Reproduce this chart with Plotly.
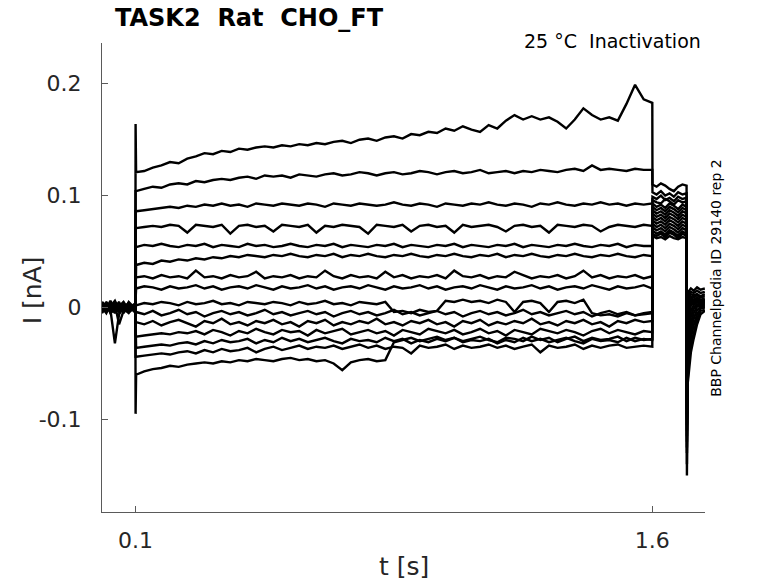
import plotly.graph_objects as go

# sample times [s]
t_pre = [0.0025, 0.015, 0.027, 0.04, 0.052, 0.065, 0.08, 0.0995]
t_on = 0.1
t_pulse = [0.1015] + [round(0.1 + 0.025 * k, 4) for k in range(1, 61)]
t_tail = [1.6005, 1.6125, 1.625, 1.6375, 1.65, 1.6625, 1.675, 1.6875, 1.6995]
t_post = [1.7005, 1.7035, 1.707, 1.712, 1.72, 1.73, 1.74, 1.7525]

# currents in pA, one row per sweep (top to bottom)
pre_pA = [
    [2, -3, 4, -1, 3, -2, 1, 0],
    [-1, 3, -4, 2, -2, 4, -3, 1],
    [3, 0, -3, 5, -1, 2, 0, -2],
    [-4, 2, 1, -3, 4, -1, 3, -1],
    [0, -5, 3, -2, 1, 5, -2, 2],
    [5, 1, -2, -32, -6, 0, 4, -3],
    [-2, 4, 0, 3, -15, -3, 2, 1],
    [1, -2, 5, -4, 2, -1, -5, 3],
    [-3, 5, -1, 1, -4, 3, 0, -4],
    [4, -4, 2, -5, 3, 1, -3, 2],
    [-5, 1, -2, 4, 0, -4, 5, -1],
    [2, -1, 6, -2, -3, 2, -1, 4],
    [-2, 3, -5, 0, 5, -5, 2, -2],
    [0, -3, 1, 6, -2, 3, -4, 0],
    [3, 2, -4, -3, 1, -2, 4, -5],
]

on_pA = [164, 104, 86, 71, 54, 38, 27, 17, 2, -5, -13, -24, -35, -44, -95]

pulse_pA = [
    [121, 122, 125, 127, 130, 129, 133, 135, 138, 137,
     140, 139, 142, 141, 143, 144, 143, 145, 144, 146,
     145, 147, 146, 148, 149, 147, 150, 151, 149, 152,
     153, 151, 155, 154, 157, 156, 160, 158, 162, 159,
     157, 163, 160, 167, 172, 168, 171, 168, 170, 166,
     160, 168, 178, 172, 168, 170, 167, 182, 199, 186,
     183],
    [104, 106, 108, 107, 110, 111, 110, 113, 112, 114,
     115, 114, 116, 117, 115, 118, 117, 118, 116, 119,
     118, 117, 119, 120, 118, 119, 121, 120, 118, 120,
     121, 119, 120, 122, 121, 119, 121, 122, 120, 121,
     123, 120, 121, 122, 120, 122, 121, 123, 122, 121,
     123, 124, 122, 127, 123, 124, 123, 122, 124, 123,
     123],
    [86, 87, 88, 89, 90, 89, 91, 90, 92, 91,
     93, 91, 92, 90, 93, 92, 91, 93, 92, 91,
     93, 92, 90, 93, 92, 91, 93, 92, 91, 92,
     94, 92, 91, 93, 92, 90, 93, 92, 91, 93,
     92, 94, 92, 91, 93, 92, 90, 93, 92, 94,
     92, 91, 93, 92, 94, 92, 93, 91, 93, 92,
     93],
    [71, 72, 73, 72, 74, 73, 67, 74, 73, 72,
     74, 66, 73, 74, 72, 73, 68, 74, 73, 72,
     74, 67, 73, 72, 74, 73, 72, 66, 74, 73,
     72, 74, 68, 73, 74, 72, 73, 67, 74, 72,
     73, 74, 72, 68, 73, 74, 72, 73, 67, 74,
     73, 72, 74, 73, 68, 72, 74, 73, 72, 74,
     73],
    [54, 56, 55, 57, 55, 54, 56, 55, 57, 54,
     56, 55, 54, 57, 55, 56, 54, 55, 57, 55,
     54, 56, 55, 57, 54, 56, 55, 54, 56, 55,
     57, 54, 56, 55, 54, 56, 55, 57, 54, 56,
     55, 54, 56, 55, 57, 54, 56, 55, 54, 56,
     55, 57, 55, 54, 56, 55, 57, 54, 56, 55,
     55],
    [38, 40, 39, 42, 41, 43, 42, 44, 43, 45,
     44, 46, 45, 47, 46, 45, 47, 46, 48, 46,
     45, 47, 46, 48, 45, 47, 46, 48, 46, 45,
     47, 46, 48, 46, 45, 47, 46, 48, 46, 45,
     47, 46, 48, 45, 47, 46, 48, 46, 45, 47,
     46, 48, 46, 45, 47, 46, 48, 46, 45, 47,
     46],
    [27, 28, 26, 29, 27, 28, 26, 33, 27, 28,
     26, 29, 27, 28, 32, 26, 28, 27, 29, 26,
     28, 27, 33, 28, 26, 29, 27, 28, 26, 32,
     27, 29, 26, 28, 27, 29, 26, 33, 28, 27,
     29, 26, 28, 27, 32, 29, 26, 28, 27, 29,
     26, 28, 33, 27, 29, 26, 28, 27, 29, 26,
     28],
    [17, 19, 18, 16, 19, 17, 18, 20, 17, 19,
     16, 18, 19, 17, 20, 18, 16, 19, 17, 18,
     20, 17, 19, 16, 18, 19, 17, 20, 18, 16,
     19, 17, 18, 20, 17, 19, 16, 18, 19, 17,
     20, 18, 16, 19, 17, 18, 20, 17, 19, 16,
     18, 19, 17, 20, 18, 16, 19, 17, 18, 20,
     17],
    [2, 4, 3, 5, 4, 2, 5, 3, 4, 6,
     3, 4, 2, 5, 4, 3, 5, 4, 2, 5,
     3, 4, 6, 3, 4, 2, 5, 4, 3, 5,
     -4, -3, -5, -2, -4, -3, 6, 5, 7, 5,
     6, 4, 7, 5, -4, 5, 6, 4, -4, 5,
     6, 4, 7, -5, -7, -6, -8, -5, -7, -6,
     -5],
    [-4, -6, -3, -7, -5, -2, -6, -4, -8, -5,
     -3, -6, -4, -7, -5, -2, -6, -4, -7, -5,
     -3, -6, -4, -8, -5, -3, -6, -4, -7, -5,
     -2, -6, -4, -7, -5, -3, -6, -4, -8, -5,
     -3, -6, -4, -7, -5, -2, -6, -4, -7, -5,
     -3, -6, -4, -8, -5, -3, -6, -4, -7, -5,
     -4],
    [-13, -15, -12, -16, -13, -11, -14, -17, -12, -14,
     -10, -15, -13, -16, -12, -14, -11, -15, -13, -17,
     -12, -14, -11, -16, -13, -15, -12, -14, -10, -15,
     -13, -16, -12, -14, -11, -15, -13, -17, -12, -14,
     -11, -16, -13, -15, -12, -14, -10, -15, -13, -16,
     -12, -14, -11, -15, -13, -17, -12, -14, -11, -13,
     -12],
    [-26, -25, -24, -23, -24, -22, -23, -21, -24, -20,
     -22, -25, -21, -23, -19, -22, -24, -20, -22, -21,
     -25, -20, -23, -21, -19, -24, -22, -20, -23, -21,
     -25, -20, -22, -24, -19, -21, -23, -20, -24, -22,
     -19, -23, -21, -25, -20, -22, -24, -19, -21, -23,
     -20, -22, -25, -21, -19, -23, -20, -22, -24, -21,
     -22],
    [-36, -35, -34, -33, -34, -32, -31, -33, -30, -32,
     -29, -31, -30, -28, -32, -29, -31, -27, -30, -28,
     -31, -29, -27, -30, -32, -28, -30, -29, -31, -27,
     -30, -28, -32, -29, -31, -28, -30, -27, -31, -29,
     -30, -28, -32, -29, -31, -27, -30, -28, -31, -29,
     -27, -30, -32, -28, -30, -29, -31, -27, -30, -28,
     -29],
    [-44, -43, -42, -41, -42, -40, -39, -41, -38, -40,
     -37, -39, -38, -36, -40, -37, -35, -38, -36, -34,
     -37, -35, -36, -34, -37, -35, -33, -36, -34, -37,
     -35, -36, -41, -34, -36, -35, -33, -37, -34, -36,
     -35, -33, -36, -34, -37, -35, -33, -40, -34, -36,
     -35, -33, -37, -34, -36, -34, -33, -36, -35, -34,
     -35],
    [-60, -57, -55, -54, -52, -53, -51, -50, -49, -50,
     -48, -49, -47, -48, -46, -47, -48, -46, -45, -47,
     -46, -48, -47, -50, -56, -49, -47, -46, -48, -47,
     -31, -29, -27, -30, -28, -26, -29, -27, -30, -28,
     -26, -29, -31, -27, -28, -30, -26, -29, -27, -31,
     -28, -26, -30, -27, -29, -28, -26, -30, -27, -29,
     -28],
]

tail_pA = [
    [110, 108, 111, 109, 106, 104, 108, 110, 109],
    [103, 101, 104, 100, 102, 99, 103, 101, 102],
    [99, 97, 100, 96, 98, 95, 99, 97, 98],
    [96, 94, 93, 97, 95, 92, 96, 94, 95],
    [93, 90, 92, 89, 93, 91, 88, 92, 90],
    [90, 87, 89, 86, 90, 88, 85, 89, 87],
    [87, 84, 86, 83, 87, 85, 82, 86, 84],
    [84, 81, 83, 80, 84, 82, 79, 83, 81],
    [81, 78, 80, 77, 81, 79, 76, 80, 78],
    [78, 75, 77, 74, 78, 76, 73, 77, 75],
    [75, 72, 74, 71, 75, 73, 70, 74, 72],
    [72, 69, 71, 68, 72, 70, 67, 71, 69],
    [69, 66, 68, 65, 69, 67, 64, 68, 66],
    [66, 64, 66, 63, 67, 65, 62, 66, 64],
    [64, 62, 63, 61, 64, 62, 61, 63, 62],
]

post_pA = [
    [-150, 10, 15, 17, 15, 18, 16, 17],
    [-140, 8, 12, 14, 13, 15, 13, 14],
    [-130, 5, 10, 12, 11, 12, 10, 12],
    [-125, 2, 8, 10, 9, 11, 9, 10],
    [-120, -2, 5, 8, 7, 9, 7, 8],
    [-115, -6, 2, 6, 6, 8, 6, 7],
    [-110, -12, -2, 4, 5, 7, 5, 6],
    [-105, -18, -6, 2, 4, 6, 4, 5],
    [-100, -25, -12, -3, 2, 5, 3, 4],
    [-95, -32, -18, -8, -1, 3, 2, 3],
    [-90, -38, -25, -14, -5, 1, 1, 2],
    [-85, -45, -32, -20, -10, -2, 0, 1],
    [-80, -52, -38, -27, -16, -6, -1, 0],
    [-75, -58, -45, -34, -22, -10, -3, -2],
    [-70, -66, -52, -40, -28, -15, -6, -3],
]

t_all = t_pre + [t_on] + t_pulse + t_tail + t_post

fig = go.Figure()
for i in range(len(pulse_pA)):
    i_pA = pre_pA[i] + [on_pA[i]] + pulse_pA[i] + tail_pA[i] + post_pA[i]
    assert len(i_pA) == len(t_all), (i, len(i_pA))
    fig.add_trace(go.Scatter(
        x=t_all,
        y=[v / 1000 for v in i_pA],
        mode='lines',
        line=dict(color='black', width=2.4),
        showlegend=False,
        hoverinfo='skip'
    ))

axis_col = '#5a5a5a'
font_col = '#262626'

fig.update_xaxes(
    range=[0.0025, 1.753],
    tickvals=[0.1, 1.6], ticktext=['0.1', '1.6'],
    ticks='inside', ticklen=6, tickcolor=axis_col,
    showline=True, linecolor=axis_col, linewidth=1,
    showgrid=False, zeroline=False,
    tickfont=dict(family='DejaVu Sans', size=22, color=font_col),
    ticklabelstandoff=9
)
fig.update_yaxes(
    range=[-0.1827, 0.2364],
    tickvals=[-0.1, 0, 0.1, 0.2], ticktext=['-0.1', '0', '0.1', '0.2'],
    ticks='inside', ticklen=6, tickcolor=axis_col,
    showline=True, linecolor=axis_col, linewidth=1,
    showgrid=False, zeroline=False,
    tickfont=dict(family='DejaVu Sans', size=22, color=font_col),
    ticklabelstandoff=15
)

fig.update_layout(
    width=778, height=583,
    margin=dict(l=102, r=73, t=43, b=71),
    plot_bgcolor='white', paper_bgcolor='white',
    font=dict(family='DejaVu Sans', color=font_col),
    annotations=[
        dict(text='<b>TASK2  Rat  CHO_FT</b>', xref='paper', yref='paper',
             x=0.018, y=1.053, xanchor='left', yanchor='middle',
             showarrow=False, font=dict(size=24, color='black')),
        dict(text='25 °C  Inactivation', xref='paper', yref='paper',
             x=0.997, y=1.004, xanchor='right', yanchor='middle',
             showarrow=False, font=dict(size=19, color='black')),
        dict(text='BBP Channelpedia ID 29140 rep 2', xref='paper', yref='paper',
             x=1.018, y=0.499, xanchor='center', yanchor='middle', textangle=-90,
             showarrow=False, font=dict(size=14, color='black')),
        dict(text='I [nA]', xref='paper', yref='paper',
             x=-0.116, y=0.473, xanchor='center', yanchor='middle', textangle=-90,
             showarrow=False, font=dict(size=25, color=font_col)),
        dict(text='t [s]', xref='paper', yref='paper',
             x=0.5, y=-0.117, xanchor='center', yanchor='middle',
             showarrow=False, font=dict(size=25, color=font_col)),
    ]
)

# drop the default body margin so the figure sits at the page corner
fig.write_html("out.html", config={'displayModeBar': False},
               post_script="document.body.style.margin='0';")
